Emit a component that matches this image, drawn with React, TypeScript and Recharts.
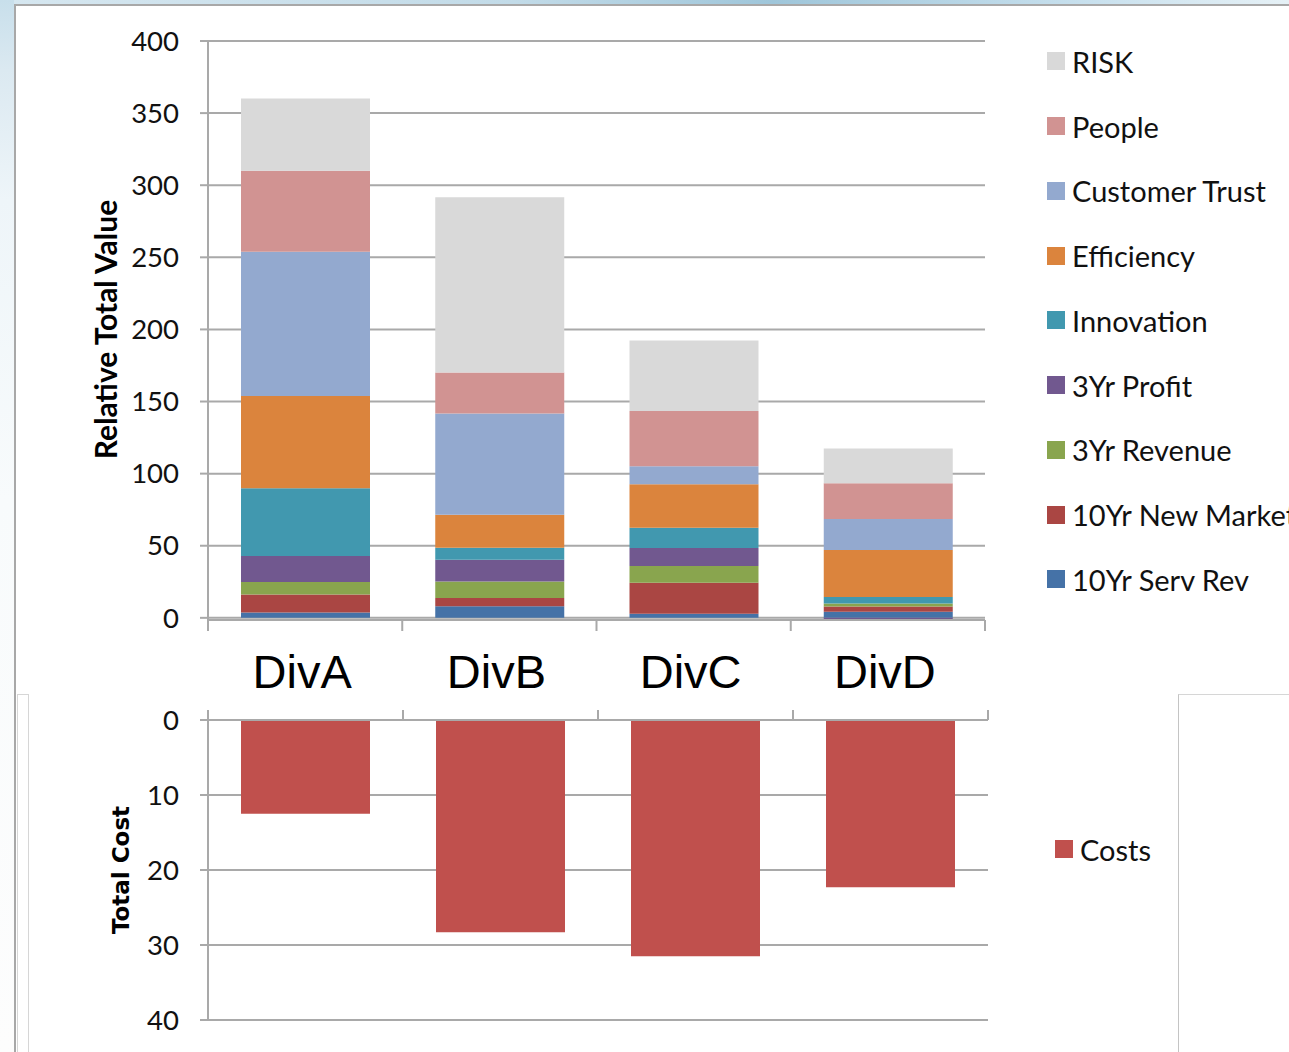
import React from 'react'
import { BarChart, Bar, XAxis, YAxis, CartesianGrid, Legend } from 'recharts'

// divisions and the stacked value components, bottom of the stack first
const categories = ['DivA', 'DivB', 'DivC', 'DivD']
const servRev10 = [3.7, 8.1, 2.8, 4.2]
const newMarket10 = [12.5, 5.6, 21.5, 3.6]
const revenue3 = [8.7, 11.5, 11.6, 2.1]
const profit3 = [17.9, 15.1, 12.5, -1.5]
const innovation = [47, 8.3, 14.1, 4.6]
const efficiency = [64.1, 22.9, 30.1, 32.6]
const customerTrust = [100, 70.2, 12.5, 21.5]
const people = [56.2, 28.5, 38.4, 24.8]
const risk = [50, 121.5, 48.9, 24.1]

const costs = [12.5, 28.3, 31.5, 22.3]

const valueTicks = [0, 50, 100, 150, 200, 250, 300, 350, 400]
const costTicks = [0, 10, 20, 30, 40]

const SERIES = [
  { key: 'servRev10', name: '10Yr Serv Rev', color: '#4572a7', values: servRev10 },
  { key: 'newMarket10', name: '10Yr New Market', color: '#aa4643', values: newMarket10 },
  { key: 'revenue3', name: '3Yr Revenue', color: '#89a54e', values: revenue3 },
  { key: 'profit3', name: '3Yr Profit', color: '#71588f', values: profit3 },
  { key: 'innovation', name: 'Innovation', color: '#4198af', values: innovation },
  { key: 'efficiency', name: 'Efficiency', color: '#db843d', values: efficiency },
  { key: 'customerTrust', name: 'Customer Trust', color: '#93a9cf', values: customerTrust },
  { key: 'people', name: 'People', color: '#d19392', values: people },
  { key: 'risk', name: 'RISK', color: '#d9d9d9', values: risk },
]

const valueData = categories.map((name, i) => {
  const row: Record<string, any> = { name }
  SERIES.forEach((s) => {
    row[s.key] = s.values[i]
  })
  return row
})

const costData = categories.map((name, i) => ({ name, costs: costs[i] }))

const LINE = '#a9a9a9'
const TICK_FONT = 'Lato, "Open Sans", sans-serif'

// plot areas
const TOP = { left: 208, right: 985, top: 41, bottom: 617 }
const BOT = { left: 208, right: 988, top: 30, bottom: 330 }
const TOP_BAND = (TOP.right - TOP.left) / categories.length
const BOT_BAND = (BOT.right - BOT.left) / categories.length

// Excel style category ticks: marks sit between categories
const TopTick = (props: any) => {
  const { x, y, payload, index } = props
  const half = TOP_BAND / 2
  return (
    <g>
      <line x1={x - half} x2={x - half} y1={y} y2={y + 11} stroke={LINE} strokeWidth={2} />
      {index === categories.length - 1 && (
        <line x1={x + half} x2={x + half} y1={y} y2={y + 11} stroke={LINE} strokeWidth={2} />
      )}
      <text x={x - 3} y={y + 68} textAnchor="middle" fontFamily='"Liberation Sans", Arial, sans-serif' fontSize={47} fill="#000">
        {payload.value}
      </text>
    </g>
  )
}

const BotTick = (props: any) => {
  const { x, y, index } = props
  const half = BOT_BAND / 2
  return (
    <g>
      <line x1={x - half} x2={x - half} y1={y - 10} y2={y} stroke={LINE} strokeWidth={2} />
      {index === categories.length - 1 && (
        <line x1={x + half} x2={x + half} y1={y - 10} y2={y} stroke={LINE} strokeWidth={2} />
      )}
    </g>
  )
}

const renderValueTitle = (props: any) => {
  const { viewBox } = props
  const cx = viewBox.x - 23
  const cy = viewBox.y + viewBox.height / 2 - 1
  return (
    <text
      x={cx}
      y={cy}
      transform={`rotate(-90, ${cx}, ${cy})`}
      textAnchor="middle"
      dominantBaseline="central"
      fontFamily={TICK_FONT}
      fontWeight={700}
      fontSize={30}
      fill="#000"
    >
      Relative Total Value
    </text>
  )
}

const renderCostTitle = (props: any) => {
  const { viewBox } = props
  const cx = viewBox.x - 7
  const cy = viewBox.y + viewBox.height / 2
  return (
    <text
      x={cx}
      y={cy}
      transform={`rotate(-90, ${cx}, ${cy})`}
      textAnchor="middle"
      dominantBaseline="central"
      fontFamily='"DejaVu Sans", sans-serif'
      fontWeight={700}
      fontSize={23}
      fill="#000"
    >
      Total Cost
    </text>
  )
}

const LegendList = ({ payload, rowHeight }: any) => {
  const order = SERIES.map((s) => s.key).concat('costs')
  const items = [...(payload || [])].sort(
    (a: any, b: any) => order.indexOf(b.dataKey) - order.indexOf(a.dataKey)
  )
  return (
    <div>
      {items.map((item: any) => (
        <div
          key={item.dataKey}
          style={{ height: rowHeight, display: 'flex', alignItems: 'center', whiteSpace: 'nowrap' }}
        >
          <span style={{ width: 18, height: 18, background: item.color, display: 'inline-block' }} />
          <span style={{ marginLeft: 7, fontFamily: TICK_FONT, fontSize: 29, color: '#111' }}>{item.value}</span>
        </div>
      ))}
    </div>
  )
}

export default function App() {
  return (
    <div
      style={{
        position: 'absolute',
        left: 0,
        top: 0,
        width: 1289,
        height: 1052,
        overflow: 'hidden',
        background: '#fff',
      }}
    >
      {/* slide backdrop around the chart frame */}
      <div
        style={{
          position: 'absolute',
          left: 0,
          top: 0,
          width: 1289,
          height: 5,
          background: 'linear-gradient(90deg, #d6e7f0 0%, #c2dbe8 40%, #9fc6da 60%, #c9e1ee 85%, #e6f1f6 100%)',
        }}
      />
      <div
        style={{
          position: 'absolute',
          left: 0,
          top: 0,
          width: 14,
          height: 1052,
          background: 'linear-gradient(180deg, #c8dfeb 0px, #dbe9f1 70px, #eef5f9 200px, #f8fbfc 500px, #fdfdfd 1052px)',
        }}
      />
      <div style={{ position: 'absolute', left: 14, top: 4, width: 1275, height: 2, background: '#a8a8a8' }} />
      <div style={{ position: 'absolute', left: 14, top: 4, width: 2, height: 1048, background: '#a8a8a8' }} />
      <div
        style={{
          position: 'absolute',
          left: 17,
          top: 694,
          width: 10,
          height: 358,
          border: '1px solid #d6d6d6',
          borderBottom: 'none',
        }}
      />
      <div
        style={{
          position: 'absolute',
          left: 1178,
          top: 694,
          width: 111,
          height: 358,
          borderLeft: '1px solid #c4c4c4',
          borderTop: '1px solid #d6d6d6',
        }}
      />

      <div style={{ position: 'absolute', left: 0, top: 0 }}>
        <BarChart
          width={1289}
          height={700}
          data={valueData}
          stackOffset="sign"
          barSize={129}
          margin={{ top: TOP.top, left: TOP.left - 80, right: 1289 - TOP.right, bottom: 0 }}
        >
          <CartesianGrid vertical={false} stroke={LINE} strokeWidth={2} />
          <XAxis
            dataKey="name"
            height={700 - TOP.bottom - 3}
            tickSize={0}
            tickMargin={0}
            tickLine={false}
            axisLine={{ stroke: LINE, strokeWidth: 2 }}
            tick={<TopTick />}
            interval={0}
          />
          <YAxis
            width={80}
            domain={[0, 400]}
            ticks={valueTicks}
            interval={0}
            tickSize={8}
            tickMargin={21}
            tickLine={{ stroke: LINE, strokeWidth: 2 }}
            axisLine={{ stroke: LINE, strokeWidth: 2 }}
            tick={{ fill: '#111', fontSize: 27.5, fontFamily: TICK_FONT }}
            label={renderValueTitle}
          />
          {SERIES.map((s) => (
            <Bar key={s.key} dataKey={s.key} name={s.name} stackId="a" fill={s.color} isAnimationActive={false} />
          ))}
          <Legend
            layout="vertical"
            align="center"
            verticalAlign="middle"
            wrapperStyle={{ left: 1047, top: 29, width: 280, right: 'auto', bottom: 'auto' }}
            content={<LegendList rowHeight={64.75} />}
          />
        </BarChart>
      </div>

      <div style={{ position: 'absolute', left: 0, top: 690 }}>
        <BarChart
          width={1289}
          height={362}
          data={costData}
          barSize={129}
          margin={{ top: BOT.top - 10, left: BOT.left - 80, right: 1289 - BOT.right, bottom: 362 - BOT.bottom }}
        >
          <CartesianGrid vertical={false} stroke={LINE} strokeWidth={2} />
          <XAxis
            dataKey="name"
            orientation="top"
            height={10}
            tickSize={0}
            tickMargin={0}
            tickLine={false}
            axisLine={{ stroke: LINE, strokeWidth: 2 }}
            tick={<BotTick />}
            interval={0}
          />
          <YAxis
            width={80}
            reversed
            domain={[0, 40]}
            ticks={costTicks}
            interval={0}
            tickSize={8}
            tickMargin={21}
            tickLine={{ stroke: LINE, strokeWidth: 2 }}
            axisLine={{ stroke: LINE, strokeWidth: 2 }}
            tick={{ fill: '#111', fontSize: 27.5, fontFamily: TICK_FONT }}
            label={renderCostTitle}
          />
          <Bar dataKey="costs" name="Costs" fill="#c0504d" isAnimationActive={false} />
          <Legend
            layout="vertical"
            align="center"
            verticalAlign="middle"
            wrapperStyle={{ left: 1055, top: 159 - 20, width: 200, right: 'auto', bottom: 'auto' }}
            content={<LegendList rowHeight={40} />}
          />
        </BarChart>
      </div>
    </div>
  )
}
